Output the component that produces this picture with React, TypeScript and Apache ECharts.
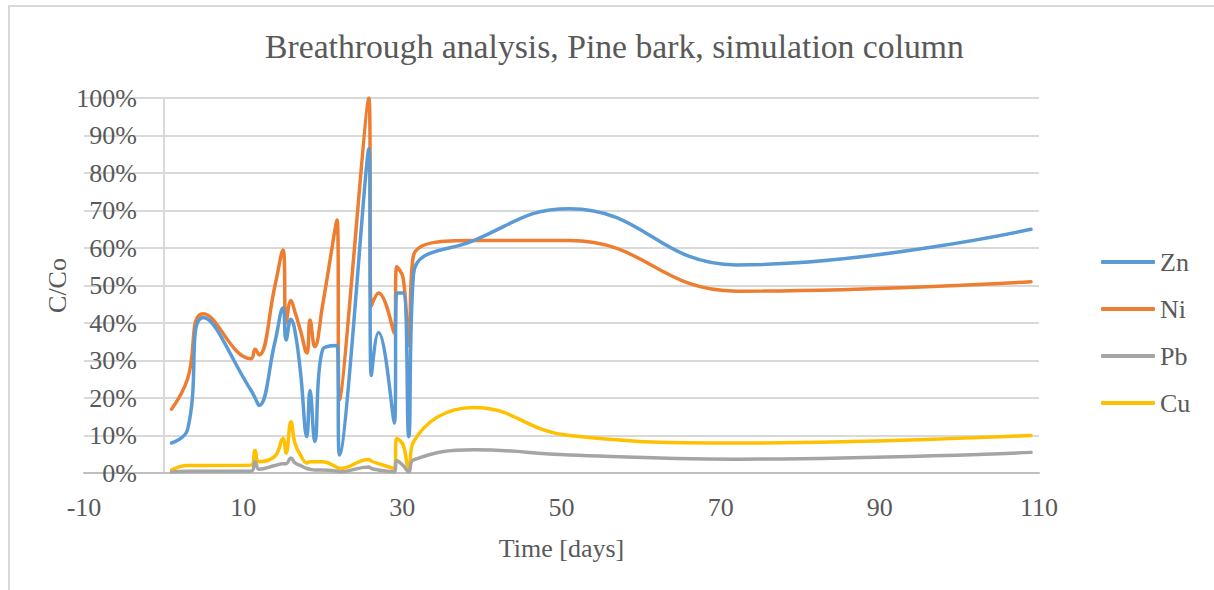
import React, { useEffect, useRef } from "react";
import * as echarts from "echarts";

// Sampling times (days) shared by all four metals
const days = [1, 3, 5, 11, 11.5, 12, 14, 15, 15.4, 16, 16.5, 17.2, 18, 18.4, 19, 20, 21.8, 22.1, 25.8, 26.1, 27, 29, 29.3, 30.1, 30.8, 31.4, 39, 51, 72, 109];

// C/Co ratios in percent
const zn = [8, 11.5, 41.5, 22, 20, 18, 35, 44, 35.5, 41, 38, 27, 9.7, 22, 8.4, 33, 34, 4.8, 86.5, 26, 37.5, 13.3, 48, 48, 9.7, 53, 62, 70.5, 55.5, 65];
const ni = [17, 25, 42.5, 30.5, 33, 31.5, 50, 59.5, 40, 46, 43, 38, 32, 40.8, 33.7, 45, 67.5, 19.5, 100, 44.5, 48, 37.3, 55, 52, 34, 58, 62, 62, 48.5, 51];
const pb = [0.3, 0.5, 0.5, 0.5, 3, 1, 2, 2.5, 2.5, 4, 2.7, 2, 1.2, 1, 0.8, 0.8, 0.5, 0.3, 1.6, 1.2, 0.8, 0.3, 3.3, 2, 0.3, 3.5, 6.2, 4.8, 3.7, 5.5];
const cu = [0.8, 2, 2, 2.1, 6, 3, 4.5, 9.2, 5.3, 13.7, 8, 4.8, 2.7, 3, 3, 3, 1.5, 1.2, 3.6, 3.2, 2.5, 1.2, 9.2, 7.5, 0.8, 8.3, 17.5, 10, 8, 10];

const seriesNames = ["Zn", "Ni", "Pb", "Cu"];
const seriesValues = [zn, ni, pb, cu];
const seriesColors = ["#5b9bd5", "#ed7d31", "#a5a5a5", "#ffc000"];

const FONT = "Liberation Serif";
const TEXT = "#595959";

export default function App() {
  const ref = useRef<HTMLDivElement>(null);

  useEffect(() => {
    if (!ref.current) return;
    const chart = echarts.init(ref.current, undefined, { renderer: "svg" });
    chart.setOption({
      animation: false,
      backgroundColor: "#ffffff",
      textStyle: { fontFamily: FONT, color: TEXT },
      title: {
        text: "Breathrough analysis, Pine bark, simulation column",
        left: 260,
        top: 24,
        textStyle: { fontFamily: FONT, fontSize: 33.7, fontWeight: "normal", color: TEXT },
      },
      graphic: [
        {
          type: "polyline",
          shape: { points: [[9, 600], [9, 6], [1220, 6]] },
          style: { stroke: "#d9d9d9", lineWidth: 2, fill: "none" },
          silent: true,
        },
      ],
      legend: {
        orient: "vertical",
        left: 1101,
        top: 249,
        padding: 0,
        icon: "roundRect",
        itemWidth: 54,
        itemHeight: 4,
        itemGap: 21,
        data: seriesNames,
        textStyle: { fontFamily: FONT, fontSize: 26, color: TEXT, lineHeight: 26 },
      },
      grid: { left: 84, right: 175, top: 98, bottom: 117, containLabel: false, outerBoundsMode: "none" },
      xAxis: {
        type: "value",
        min: -10,
        max: 110,
        interval: 20,
        name: "Time [days]",
        nameLocation: "middle",
        nameGap: 62,
        nameTextStyle: { fontFamily: FONT, fontSize: 26, color: TEXT },
        axisLine: { show: true, lineStyle: { color: "#bfbfbf", width: 2 } },
        axisTick: { show: false },
        splitLine: { show: false },
        axisLabel: { fontFamily: FONT, fontSize: 26, color: TEXT, margin: 21 },
      },
      yAxis: {
        type: "value",
        min: 0,
        max: 100,
        interval: 10,
        name: "C/Co",
        nameLocation: "middle",
        nameGap: 14,
        nameMoveOverlap: false,
        nameTextStyle: { fontFamily: FONT, fontSize: 26, color: TEXT },
        axisLine: { show: true, onZero: true, lineStyle: { color: "#d9d9d9", width: 2 } },
        axisTick: { show: false },
        splitLine: { show: true, lineStyle: { color: "#d9d9d9", width: 2 } },
        // labels sit just left of the x = 0 axis line, inside the grid
        axisLabel: { fontFamily: FONT, fontSize: 26, color: TEXT, margin: -53, formatter: "{value}%" },
      },
      series: seriesNames.map((name, i) => ({
        name,
        type: "line",
        smooth: 0.45,
        symbol: "none",
        data: days.map((d, j) => [d, seriesValues[i][j]]),
        lineStyle: { color: seriesColors[i], width: 3.5, cap: "round", join: "round" },
        itemStyle: { color: seriesColors[i] },
        z: 10 - i,
      })),
    });
    return () => chart.dispose();
  }, []);

  return (
    <div
      ref={ref}
      style={{ position: "absolute", left: 0, top: 0, width: 1214, height: 590 }}
    />
  );
}
